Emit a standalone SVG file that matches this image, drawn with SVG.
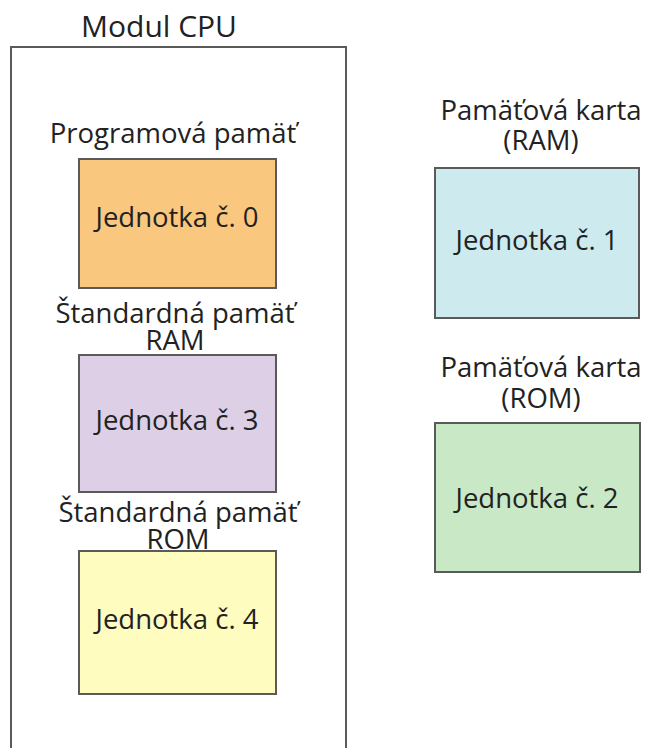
<svg xmlns="http://www.w3.org/2000/svg" width="647" height="748" viewBox="0 0 647 748">
<style>
text{font-family:"Open Sans","Noto Sans","DejaVu Sans",sans-serif;fill:#222;text-anchor:middle}
.t{font-size:27.5px}
.h{font-size:30px}
.u{stroke:#5a5a5a;stroke-width:2}
</style>
<rect width="647" height="748" fill="#fff"/>
<g id="cpu">
<rect x="11" y="47" width="335" height="720" fill="none" stroke="#5a5a5a" stroke-width="2"/>
<text class="h" x="159" y="37">Modul CPU</text>
</g>
<g id="unit0">
<text class="t" x="173" y="143">Programová pamäť</text>
<rect class="u" x="79" y="159" width="197" height="129" fill="#FAC77F"/>
<text class="t" x="177" y="227">Jednotka č. 0</text>
</g>
<g id="unit3">
<text class="t" x="175" y="323">Štandardná pamäť</text>
<text class="t" x="175" y="350">RAM</text>
<rect class="u" x="79" y="355" width="197" height="137" fill="#DDD0E6"/>
<text class="t" x="177" y="430">Jednotka č. 3</text>
</g>
<g id="unit4">
<text class="t" x="178" y="522">Štandardná pamäť</text>
<text class="t" x="178" y="549">ROM</text>
<rect class="u" x="79" y="551" width="197" height="143" fill="#FFFCC0"/>
<text class="t" x="177" y="629">Jednotka č. 4</text>
</g>
<g id="unit1">
<text class="t" x="541" y="120">Pamäťová karta</text>
<text class="t" x="541" y="150">(RAM)</text>
<rect class="u" x="435" y="168" width="204" height="150" fill="#CDEBEE"/>
<text class="t" x="537" y="250">Jednotka č. 1</text>
</g>
<g id="unit2">
<text class="t" x="541" y="377">Pamäťová karta</text>
<text class="t" x="541" y="408">(ROM)</text>
<rect class="u" x="435" y="423" width="205" height="149" fill="#C9E8C6"/>
<text class="t" x="537" y="508">Jednotka č. 2</text>
</g>
<g id="connectors"/>
</svg>
